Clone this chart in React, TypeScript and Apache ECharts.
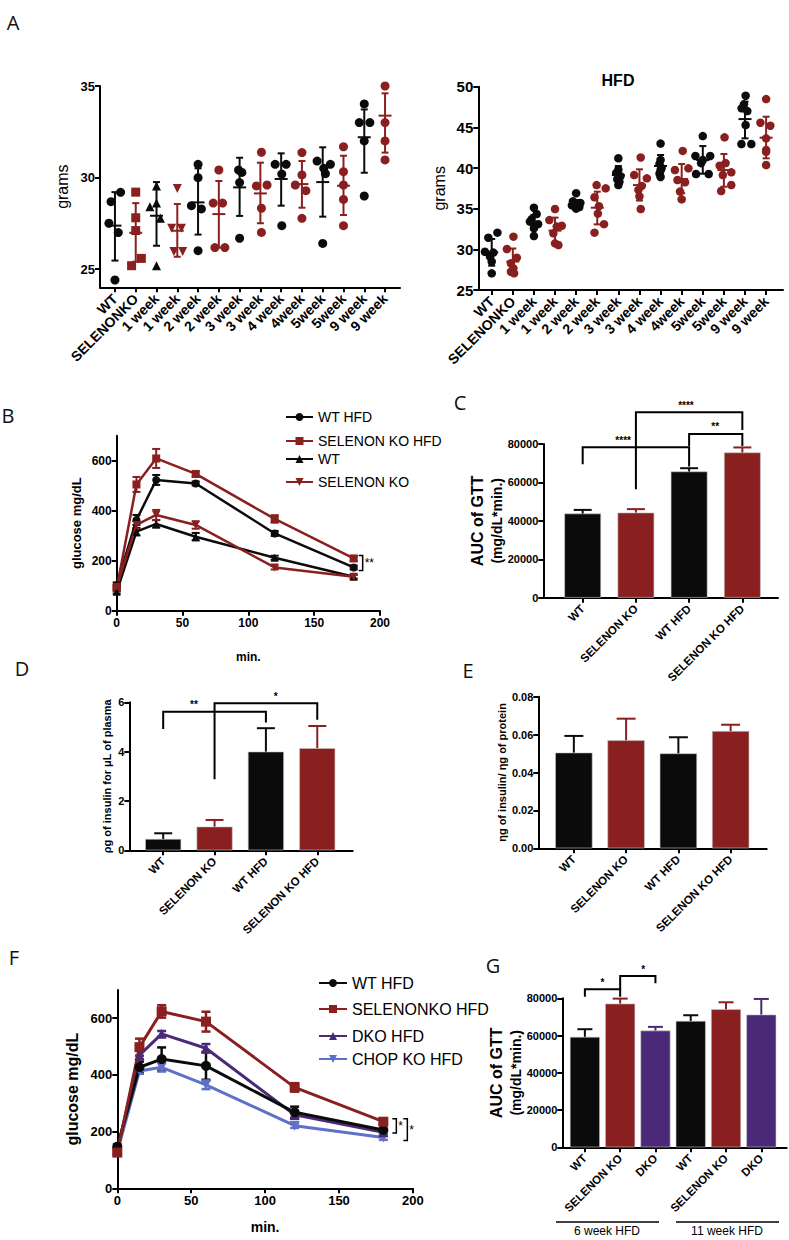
import React, { useEffect, useRef } from "react";
import * as echarts from "echarts";

const RED = "#8a1f1f";
const BLACK = "#0b0b0b";
const PURPLE = "#4a2a78";
const BLUE = "#6070c8";
const FONT = "'Liberation Sans', Arial, Helvetica, sans-serif";

// ---------- Panel A (body weight) ----------
const weekCats = ["WT", "SELENONKO", "1 week", "1 week", "2 week", "2 week", "3 week", "3 week", "4 week", "4week", "5week", "5week", "9 week", "9 week"];
const aTicksLeft = [25, 30, 35];
const aTicksRight = [25, 30, 35, 40, 45, 50];

// [jitter (category units), grams]
const chowPoints: number[][][] = [
  [[-0.29, 27.5], [-0.19, 28.68], [0.16, 26.99], [0.27, 29.19], [0, 24.4]],
  [[0, 29.2], [0, 27.8], [0, 27.1], [0.27, 25.58], [-0.2, 25.18]],
  [[0, 29.54], [-0.32, 28.4], [0, 28.6], [0.19, 27.77], [0, 25.18]],
  [[0, 29.4], [-0.27, 27.22], [0.2, 27.22], [-0.16, 25.95], [0.26, 25.95]],
  [[0, 30.72], [0, 29.99], [-0.32, 28.46], [0.16, 28.28], [0, 26.0]],
  [[0, 30.41], [-0.27, 28.6], [0.18, 28.6], [-0.19, 26.17], [0.29, 26.17]],
  [[-0.05, 30.41], [0.11, 30.28], [0, 29.72], [0, 26.68]],
  [[0.05, 31.38], [-0.19, 29.54], [0.32, 29.59], [0.05, 28.32], [0.05, 27.0]],
  [[-0.29, 30.72], [0.24, 30.72], [0.03, 30.19], [0.03, 27.37]],
  [[0, 31.36], [0, 30.14], [-0.32, 29.59], [0.19, 29.28], [0, 27.77]],
  [[-0.27, 30.9], [0.37, 30.72], [0.05, 30.5], [0.13, 30.21], [0, 26.4]],
  [[0, 31.68], [0, 30.32], [0, 29.59], [0, 28.8], [0, 27.37]],
  [[0, 34.02], [-0.24, 33.0], [0.27, 33.0], [0, 32.0], [0, 28.99]],
  [[0, 35.0], [0, 33.0], [0, 32.0], [0, 30.96]],
];
const chowMean = [27.37, 26.98, 27.91, 27.09, 28.64, 28.0, 29.46, 29.13, 29.92, 29.64, 29.75, 29.55, 32.2, 33.38];
const chowLo = [25.46, 25.4, 26.27, 25.67, 26.88, 26.17, 27.9, 27.5, 28.46, 28.35, 27.86, 27.95, 30.26, 31.36];
const chowHi = [29.2, 28.6, 29.75, 28.55, 30.5, 29.81, 31.08, 30.81, 31.32, 30.9, 31.65, 31.19, 33.72, 34.6];
const chowSymbols = ["circle", "rect", "triangle", "triangle", "circle", "circle", "circle", "circle", "circle", "circle", "circle", "circle", "circle", "circle"];
const chowRotate = [0, 0, 0, 180, 0, 0, 0, 0, 0, 0, 0, 0, 0, 0];

const hfdPoints: number[][][] = [
  [[-0.16, 31.43], [0.27, 32.05], [-0.32, 29.7], [0.08, 29.6], [0, 28.5], [-0.08, 29.1], [0, 27.05]],
  [[-0.28, 30.04], [0.03, 31.56], [0.19, 28.98], [-0.09, 28.28], [0.03, 27.66], [-0.09, 27.25], [0.06, 27.05]],
  [[0, 35.12], [0.13, 34.34], [-0.11, 33.7], [0.2, 33.1], [0, 32.6], [0, 31.64], [-0.19, 33.4]],
  [[0, 34.96], [-0.27, 33.6], [0.32, 32.9], [0.08, 32.8], [-0.08, 31.97], [0, 30.74], [0.16, 30.53]],
  [[0, 36.9], [-0.15, 35.9], [0.2, 35.7], [0, 35.6], [-0.2, 35.4], [0.15, 35.2], [0, 35.0]],
  [[-0.03, 37.9], [0.4, 37.5], [-0.13, 36.4], [0.08, 35.3], [0.03, 34.4], [0.32, 33.1], [-0.13, 32.05]],
  [[0, 41.2], [0, 39.8], [-0.1, 39.4], [0.1, 39.0], [-0.05, 38.6], [0.05, 38.3], [0, 37.9]],
  [[0.06, 41.3], [-0.25, 39.14], [0.35, 38.73], [0.11, 37.8], [-0.05, 37.3], [0, 36.5], [0.06, 34.96]],
  [[0, 43.0], [0, 41.0], [-0.05, 40.5], [0.05, 40.0], [0, 39.7], [-0.05, 39.3], [0, 38.9]],
  [[0.05, 42.1], [-0.32, 39.75], [0.32, 39.96], [-0.2, 38.52], [0.16, 38.24], [-0.08, 37.1], [0, 36.15]],
  [[0, 43.93], [-0.35, 41.48], [0.35, 41.48], [0, 40.98], [-0.08, 40.6], [-0.32, 39.26], [0.28, 39.26]],
  [[0.03, 43.77], [-0.2, 40.29], [0.08, 40.61], [0.35, 39.47], [-0.05, 39.14], [0.35, 37.91], [-0.13, 37.17]],
  [[0.03, 48.89], [-0.05, 47.83], [-0.16, 47.34], [0.11, 47.0], [0.03, 45.29], [-0.17, 42.95], [0.3, 42.95]],
  [[0, 48.48], [-0.27, 45.57], [0.2, 45.2], [0, 43.65], [0, 42.21], [0, 42.0], [0, 40.37]],
];
const hfdMean = [29.63, 28.5, 33.4, 32.3, 35.57, 35.12, 39.14, 37.9, 40.25, 38.65, 40.98, 39.75, 46.02, 43.73];
const hfdLo = [27.99, 27.1, 32.38, 30.7, 35.04, 33.07, 38.0, 36.0, 38.9, 36.9, 39.3, 37.7, 43.65, 41.19];
const hfdHi = [31.27, 30.1, 34.22, 33.9, 36.07, 37.09, 40.25, 39.84, 41.6, 40.49, 42.7, 41.72, 48.16, 46.31];

// ---------- Panel B (GTT) ----------
const gttTimes = [0, 15, 30, 60, 120, 180];
const timeTicks = [0, 50, 100, 150, 200];
const glucoseTicks = [0, 200, 400, 600];
const bWtHfd = [103, 363, 523, 509, 309, 173];
const bWtHfdErr = [10, 20, 20, 8, 10, 8];
const bKoHfd = [89, 505, 609, 547, 367, 209];
const bKoHfdErr = [10, 30, 38, 10, 15, 10];
const bWt = [76, 316, 347, 296, 212, 136];
const bWtErr = [8, 15, 15, 15, 8, 8];
const bKo = [96, 343, 383, 343, 173, 136];
const bKoErr = [8, 15, 20, 15, 8, 8];

// ---------- Panel C (AUC) ----------
const fourCats = ["WT", "SELENON KO", "WT HFD", "SELENON KO HFD"];
const fourColors = [BLACK, RED, BLACK, RED];
const aucTicks = [0, 20000, 40000, 60000, 80000];
const cAuc = [43800, 44300, 65700, 75600];
const cAucErr = [1900, 1800, 1700, 2600];

// ---------- Panel D (plasma insulin) ----------
const dTicks = [0, 2, 4, 6];
const dInsulin = [0.46, 0.96, 4.0, 4.14];
const dInsulinErr = [0.23, 0.27, 0.95, 0.9];

// ---------- Panel E (pancreatic insulin) ----------
const eTicks = [0, 0.02, 0.04, 0.06, 0.08];
const eInsulin = [0.0505, 0.057, 0.0501, 0.0619];
const eInsulinErr = [0.0088, 0.0114, 0.0085, 0.0033];

// ---------- Panel F (GTT with DKO / CHOP KO) ----------
const fWtHfd = [147, 427, 456, 432, 268, 206];
const fWtHfdErr = [8, 20, 41, 49, 20, 20];
const fKoHfd = [126, 498, 624, 588, 356, 235];
const fKoHfdErr = [8, 30, 22, 35, 15, 10];
const fDko = [135, 470, 545, 494, 259, 198];
const fDkoErr = [8, 15, 10, 15, 10, 8];
const fChop = [129, 414, 427, 365, 221, 179];
const fChopErr = [8, 10, 15, 15, 8, 8];

// ---------- Panel G (AUC 6 / 11 week) ----------
const gCats = ["WT", "SELENON KO", "DKO", "WT", "SELENON KO", "DKO"];
const gColors = [BLACK, RED, PURPLE, BLACK, RED, PURPLE];
const gAuc = [59300, 77150, 62680, 67860, 74110, 71260];
const gAucErr = [4100, 2680, 1970, 3040, 3750, 8390];

// significance brackets: category indices, bracket top, leg ends, label x
const cBrackets = [
  { x1: 0, x2: 2, top: 78333, l1: 69479, l2: 68229, lx: 0.76, label: "****" },
  { x1: 1, x2: 3, top: 96563, l1: 56458, l2: 87344, lx: 1.94, label: "****" },
  { x1: 2, x2: 3, top: 85260, l1: 79010, l2: 79010, lx: 2.49, label: "**" },
];
const dBrackets = [
  { x1: 0, x2: 2, top: 5.62, l1: 4.92, l2: 5.18, lx: 0.6, label: "**" },
  { x1: 1, x2: 3, top: 5.96, l1: 2.88, l2: 5.29, lx: 2.19, label: "*" },
];
const gBrackets = [
  { x1: 0, x2: 1, top: 84832, l1: 80860, l2: 80860, lx: 0.5, label: "*" },
  { x1: 1, x2: 2, top: 91970, l1: 84832, l2: 88050, lx: 1.65, label: "*" },
];

const idx = (n: number) => Array.from({ length: n }, (_, i) => i);

const axisLineCfg = { show: true, onZero: false, lineStyle: { color: "#000", width: 2 } };

function yAxisCfg(gi: number, min: number, max: number, ticks: number[], fontSize: number, name: string, nameGap: number, nameTextStyle: any, fmt?: (v: number) => string) {
  return {
    type: "value", gridIndex: gi, min, max,
    name, nameLocation: "middle", nameGap, nameTextStyle,
    axisLine: axisLineCfg,
    axisTick: { show: true, length: 5, lineStyle: { color: "#000", width: 2 }, customValues: ticks },
    axisLabel: { color: "#000", fontWeight: "bold", fontSize, fontFamily: FONT, margin: 5, customValues: ticks, showMinLabel: true, showMaxLabel: true, formatter: fmt || ((v: number) => String(v)) },
    splitLine: { show: false },
  };
}

function xCatAxisCfg(gi: number, min: number, max: number, cats: string[], fontSize: number) {
  const ticks = idx(cats.length);
  return {
    type: "value", gridIndex: gi, min, max,
    axisLine: axisLineCfg,
    axisTick: { show: true, length: 5, lineStyle: { color: "#000", width: 2 }, customValues: ticks },
    axisLabel: {
      color: "#000", fontWeight: "bold", fontSize, fontFamily: FONT, margin: 9, rotate: 45,
      customValues: ticks, showMinLabel: true, showMaxLabel: true, hideOverlap: false,
      formatter: (v: number) => cats[Math.round(v)] ?? "",
    },
    splitLine: { show: false },
  };
}

function xTimeAxisCfg(gi: number, fontSize: number, nameGap: number, nameSize: number) {
  return {
    type: "value", gridIndex: gi, min: 0, max: 200,
    name: "min.", nameLocation: "middle", nameGap,
    nameTextStyle: { fontWeight: "bold", fontSize: nameSize, fontFamily: FONT, color: "#000" },
    axisLine: axisLineCfg,
    axisTick: { show: true, length: 5, lineStyle: { color: "#000", width: 2 }, customValues: timeTicks },
    axisLabel: { color: "#000", fontWeight: "bold", fontSize, fontFamily: FONT, margin: 6, customValues: timeTicks, showMinLabel: true, showMaxLabel: true, formatter: (v: number) => String(v) },
    splitLine: { show: false },
  };
}

function dotSeries(gi: number, pts: number[][][], symbols: string[], rot: number[], size: number) {
  const data: any[] = [];
  pts.forEach((grp, c) =>
    grp.forEach(([dx, v]) =>
      data.push({ value: [c + dx, v], symbol: symbols[c], symbolRotate: rot[c], itemStyle: { color: c % 2 ? RED : BLACK, opacity: 1 } })
    )
  );
  return { type: "scatter", xAxisIndex: gi, yAxisIndex: gi, symbolSize: size, data, z: 2, silent: true, itemStyle: { opacity: 1 } };
}

function meanSdSeries(gi: number, mean: number[], lo: number[], hi: number[], capW: number, meanW: number) {
  return {
    type: "custom", xAxisIndex: gi, yAxisIndex: gi, z: 3, silent: true,
    data: mean.map((m, i) => [i, m, lo[i], hi[i]]),
    encode: { x: 0, y: 1 },
    renderItem: (params: any, api: any) => {
      const x = api.value(0);
      const pm = api.coord([x, api.value(1)]);
      const pl = api.coord([x, api.value(2)]);
      const ph = api.coord([x, api.value(3)]);
      const color = params.dataIndex % 2 ? RED : BLACK;
      const st = { stroke: color, lineWidth: 2 };
      return {
        type: "group",
        children: [
          { type: "line", shape: { x1: pl[0], y1: pl[1], x2: ph[0], y2: ph[1] }, style: st },
          { type: "line", shape: { x1: pl[0] - capW / 2, y1: pl[1], x2: pl[0] + capW / 2, y2: pl[1] }, style: st },
          { type: "line", shape: { x1: ph[0] - capW / 2, y1: ph[1], x2: ph[0] + capW / 2, y2: ph[1] }, style: st },
          { type: "line", shape: { x1: pm[0] - meanW / 2, y1: pm[1], x2: pm[0] + meanW / 2, y2: pm[1] }, style: st },
        ],
      };
    },
  };
}

function barSeries(gi: number, vals: number[], colors: string[], width: number) {
  return {
    type: "bar", xAxisIndex: gi, yAxisIndex: gi, barWidth: width, silent: true, z: 2,
    data: vals.map((v, i) => ({ value: [i, v], itemStyle: { color: colors[i], borderColor: "#c8c8c8", borderWidth: 0.6 } })),
  };
}

function barErrSeries(gi: number, vals: number[], errs: number[], colors: string[], capW: number) {
  return {
    type: "custom", xAxisIndex: gi, yAxisIndex: gi, z: 3, silent: true,
    data: vals.map((v, i) => [i, v, errs[i]]),
    encode: { x: 0, y: 1 },
    renderItem: (params: any, api: any) => {
      const x = api.value(0);
      const v = api.value(1);
      const p0 = api.coord([x, v]);
      const p1 = api.coord([x, v + api.value(2)]);
      const st = { stroke: colors[params.dataIndex], lineWidth: 2 };
      return {
        type: "group",
        children: [
          { type: "line", shape: { x1: p0[0], y1: p0[1], x2: p1[0], y2: p1[1] }, style: st },
          { type: "line", shape: { x1: p1[0] - capW / 2, y1: p1[1], x2: p1[0] + capW / 2, y2: p1[1] }, style: st },
        ],
      };
    },
  };
}

function lineSeries(gi: number, name: string, vals: number[], color: string, symbol: string, rot: number, size: number, width: number) {
  return {
    type: "line", name, xAxisIndex: gi, yAxisIndex: gi, silent: true, z: 3,
    data: gttTimes.map((t, i) => [t, vals[i]]),
    symbol, symbolSize: size, symbolRotate: rot,
    lineStyle: { color, width }, itemStyle: { color },
  };
}

function lineErrSeries(gi: number, vals: number[], errs: number[], color: string, capW: number, width: number) {
  return {
    type: "custom", xAxisIndex: gi, yAxisIndex: gi, z: 2, silent: true,
    data: gttTimes.map((t, i) => [t, vals[i], errs[i]]),
    encode: { x: 0, y: 1 },
    renderItem: (params: any, api: any) => {
      const x = api.value(0);
      const v = api.value(1);
      const e = api.value(2);
      const pl = api.coord([x, v - e]);
      const ph = api.coord([x, v + e]);
      const st = { stroke: color, lineWidth: width };
      return {
        type: "group",
        children: [
          { type: "line", shape: { x1: pl[0], y1: pl[1], x2: ph[0], y2: ph[1] }, style: st },
          { type: "line", shape: { x1: pl[0] - capW / 2, y1: pl[1], x2: pl[0] + capW / 2, y2: pl[1] }, style: st },
          { type: "line", shape: { x1: ph[0] - capW / 2, y1: ph[1], x2: ph[0] + capW / 2, y2: ph[1] }, style: st },
        ],
      };
    },
  };
}

function bracketSeries(gi: number, brs: any[]) {
  return {
    type: "custom", xAxisIndex: gi, yAxisIndex: gi, z: 5, clip: false, silent: true,
    data: brs.map((b) => [b.x1, b.top]),
    encode: { x: 0, y: 1 },
    itemStyle: { color: "#000" },
    renderItem: (params: any, api: any) => {
      const b = brs[params.dataIndex];
      const a = api.coord([b.x1, b.l1]);
      const t1 = api.coord([b.x1, b.top]);
      const t2 = api.coord([b.x2, b.top]);
      const c = api.coord([b.x2, b.l2]);
      const lp = api.coord([b.lx, b.top]);
      return {
        type: "group",
        children: [
          { type: "polyline", shape: { points: [a, t1, t2, c] }, style: { stroke: "#000", lineWidth: 2, fill: "none" } },
          { type: "text", x: lp[0], y: lp[1] - 2, z2: 10, style: { text: b.label, align: "center", verticalAlign: "bottom", fontSize: 10, fontWeight: "bold", fontFamily: FONT, fill: "#000000", opacity: 1 } },
        ],
      };
    },
  };
}

// vertical "]" bracket to the right of the last time point, between two series values
function sideBracketSeries(gi: number, brs: { t: number; v1: number; v2: number; off: number; label: string }[]) {
  return {
    type: "custom", xAxisIndex: gi, yAxisIndex: gi, z: 5, clip: false, silent: true,
    data: brs.map((b) => [b.t, b.v1]),
    encode: { x: 0, y: 1 },
    itemStyle: { color: "#000" },
    renderItem: (params: any, api: any) => {
      const b = brs[params.dataIndex];
      const p1 = api.coord([b.t, b.v1]);
      const p2 = api.coord([b.t, b.v2]);
      const x0 = p1[0] + b.off;
      const x1 = x0 + 4;
      const y1 = p1[1] - 3;
      const y2 = p2[1] + 3;
      return {
        type: "group",
        children: [
          { type: "polyline", shape: { points: [[x0, y1], [x1, y1], [x1, y2], [x0, y2]] }, style: { stroke: "#000", lineWidth: 1.5, fill: "none" } },
          { type: "text", x: x1 + 2, y: (y1 + y2) / 2, style: { text: b.label, align: "left", verticalAlign: "middle", fontSize: 12, fontFamily: FONT, fill: "#000000" } },
        ],
      };
    },
  };
}

function legendItem(name: string, left: number, top: number, fontSize: number, itemWidth: number) {
  return {
    data: [name], left, top, orient: "horizontal", padding: 0, itemWidth, itemHeight: 10, itemGap: 0,
    selectedMode: false,
    textStyle: { fontSize, fontFamily: FONT, color: "#000" },
  };
}

function letter(text: string, x: number, y: number) {
  return { type: "text", x, y, style: { text, align: "center", verticalAlign: "middle", fontSize: 20, fontFamily: "'Open Sans', 'Liberation Sans', sans-serif", fill: "#111" } };
}

function buildOption(): any {
  const nameStyle = (size: number, weight = "bold") => ({ fontSize: size, fontWeight: weight, fontFamily: FONT, color: "#000" });
  const aucName = "{a|AUC of GTT}\n{b|(mg/dL*min.)}";
  const aucStyle = {
    color: "#000",
    rich: {
      a: { fontSize: 16, fontWeight: "bold", fontFamily: FONT, lineHeight: 20, color: "#000" },
      b: { fontSize: 14, fontWeight: "bold", fontFamily: FONT, lineHeight: 18, color: "#000" },
    },
  };

  return {
    animation: false,
    backgroundColor: "#fff",
    textStyle: { fontFamily: FONT },
    grid: [
      { left: 100, top: 86, width: 300, height: 201.3 },
      { left: 478.3, top: 86.7, width: 304.7, height: 203.3 },
      { left: 116.7, top: 435.7, width: 263.3, height: 175 },
      { left: 543.3, top: 444, width: 234.7, height: 153.7 },
      { left: 129.3, top: 702.3, width: 223.4, height: 148 },
      { left: 538.3, top: 696.7, width: 228.4, height: 151.6 },
      { left: 117.3, top: 989.9, width: 295.6, height: 198.4 },
      { left: 562.3, top: 998.3, width: 224.4, height: 149 },
    ],
    xAxis: [
      xCatAxisCfg(0, -0.72, 13.72, weekCats, 14),
      xCatAxisCfg(1, -0.635, 13.8, weekCats, 14),
      xTimeAxisCfg(2, 12, 40, 12),
      xCatAxisCfg(3, -0.74, 3.67, fourCats, 11.5),
      xCatAxisCfg(4, -0.66, 3.69, fourCats, 11.5),
      xCatAxisCfg(5, -0.68, 3.69, fourCats, 11.5),
      xTimeAxisCfg(6, 13, 32, 14),
      xCatAxisCfg(7, -0.64, 5.72, gCats, 11.5),
    ],
    yAxis: [
      yAxisCfg(0, 24, 35, aTicksLeft, 13, "grams", 30, nameStyle(16, "normal")),
      yAxisCfg(1, 25, 50, aTicksRight, 15, "grams", 31, nameStyle(16, "normal")),
      yAxisCfg(2, 0, 700, glucoseTicks, 12, "glucose mg/dL", 34, nameStyle(13)),
      yAxisCfg(3, 0, 80000, aucTicks, 11, aucName, 37, aucStyle),
      yAxisCfg(4, 0, 6, dTicks, 11, "ρg of insulin for μL of plasma", 17, nameStyle(11)),
      yAxisCfg(5, 0, 0.08, eTicks, 11, "ηg of insulin/ ηg of protein", 31, nameStyle(11), (v: number) => v.toFixed(2)),
      yAxisCfg(6, 0, 700, glucoseTicks, 13, "glucose mg/dL", 37, nameStyle(16)),
      yAxisCfg(7, 0, 80000, aucTicks, 11, aucName, 37, aucStyle),
    ],
    legend: [
      legendItem("WT HFD", 285, 410, 14, 27),
      legendItem("SELENON KO HFD", 285, 434, 14, 27),
      legendItem("WT", 285, 452, 14, 27),
      legendItem("SELENON KO", 285, 475, 14, 27),
      legendItem("WT HFD", 318, 975, 16, 28),
      legendItem("SELENONKO HFD", 318, 1001, 16, 28),
      legendItem("DKO HFD", 318, 1028, 16, 28),
      legendItem("CHOP KO HFD", 318, 1051, 16, 28),
    ],
    series: [
      // A
      dotSeries(0, chowPoints, chowSymbols, chowRotate, 9),
      meanSdSeries(0, chowMean, chowLo, chowHi, 7, 13),
      dotSeries(1, hfdPoints, weekCats.map(() => "circle"), weekCats.map(() => 0), 8.5),
      meanSdSeries(1, hfdMean, hfdLo, hfdHi, 7, 13),
      // B
      lineErrSeries(2, bWtHfd, bWtHfdErr, BLACK, 8, 2),
      lineErrSeries(2, bKoHfd, bKoHfdErr, RED, 8, 2),
      lineErrSeries(2, bWt, bWtErr, BLACK, 8, 2),
      lineErrSeries(2, bKo, bKoErr, RED, 8, 2),
      lineSeries(2, "WT HFD", bWtHfd, BLACK, "circle", 0, 8, 2.5),
      lineSeries(2, "SELENON KO HFD", bKoHfd, RED, "rect", 0, 8, 2.5),
      lineSeries(2, "WT", bWt, BLACK, "triangle", 0, 8, 2.5),
      lineSeries(2, "SELENON KO", bKo, RED, "triangle", 180, 8, 2.5),
      sideBracketSeries(2, [{ t: 180, v1: bKoHfd[5], v2: bWtHfd[5], off: 5, label: "**" }]),
      // C
      barSeries(3, cAuc, fourColors, 36.7),
      barErrSeries(3, cAuc, cAucErr, fourColors, 18),
      bracketSeries(3, cBrackets),
      // D
      barSeries(4, dInsulin, fourColors, 36),
      barErrSeries(4, dInsulin, dInsulinErr, fourColors, 18),
      bracketSeries(4, dBrackets),
      // E
      barSeries(5, eInsulin, fourColors, 37.3),
      barErrSeries(5, eInsulin, eInsulinErr, fourColors, 19),
      // F
      lineErrSeries(6, fWtHfd, fWtHfdErr, BLACK, 9, 2.5),
      lineErrSeries(6, fKoHfd, fKoHfdErr, RED, 9, 2.5),
      lineErrSeries(6, fDko, fDkoErr, PURPLE, 9, 2.5),
      lineErrSeries(6, fChop, fChopErr, BLUE, 9, 2.5),
      lineSeries(6, "CHOP KO HFD", fChop, BLUE, "triangle", 180, 10, 3),
      lineSeries(6, "DKO HFD", fDko, PURPLE, "triangle", 0, 10, 3),
      lineSeries(6, "WT HFD", fWtHfd, BLACK, "circle", 0, 10, 3),
      lineSeries(6, "SELENONKO HFD", fKoHfd, RED, "rect", 0, 10, 3),
      sideBracketSeries(6, [
        { t: 180, v1: fKoHfd[5], v2: fWtHfd[5], off: 9, label: "*" },
        { t: 180, v1: fKoHfd[5], v2: fChop[5], off: 20, label: "*" },
      ]),
      // G
      barSeries(7, gAuc, gColors, 30),
      barErrSeries(7, gAuc, gAucErr, gColors, 15),
      bracketSeries(7, gBrackets),
    ],
    graphic: [
      letter("A", 13, 22),
      letter("B", 8, 415),
      letter("C", 460, 402),
      letter("D", 22, 668),
      letter("E", 468, 670),
      letter("F", 14, 957),
      letter("G", 493, 965),
      { type: "text", x: 618, y: 80, style: { text: "HFD", align: "center", verticalAlign: "middle", fontSize: 16, fontWeight: "bold", fontFamily: FONT, fill: "#000" } },
      { type: "line", shape: { x1: 556, y1: 1222, x2: 659, y2: 1222 }, style: { stroke: "#000", lineWidth: 1.5 } },
      { type: "line", shape: { x1: 676, y1: 1222, x2: 779, y2: 1222 }, style: { stroke: "#000", lineWidth: 1.5 } },
      { type: "text", x: 607, y: 1231, style: { text: "6 week HFD", align: "center", verticalAlign: "middle", fontSize: 12, fontFamily: FONT, fill: "#000" } },
      { type: "text", x: 727, y: 1231, style: { text: "11 week HFD", align: "center", verticalAlign: "middle", fontSize: 12, fontFamily: FONT, fill: "#000" } },
    ],
  };
}

export default function App() {
  const ref = useRef<HTMLDivElement>(null);
  useEffect(() => {
    document.body.style.margin = "0";
    const chart = echarts.init(ref.current!, null, { renderer: "svg" });
    chart.setOption(buildOption());
    return () => chart.dispose();
  }, []);
  return <div ref={ref} style={{ width: 789, height: 1240 }} />;
}
